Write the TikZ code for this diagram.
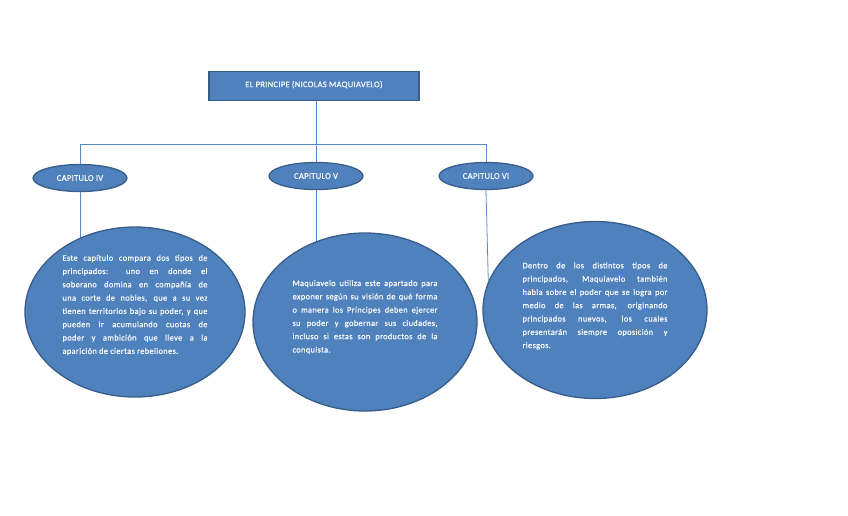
\documentclass[tikz,border=0pt]{standalone}
\usepackage{fontspec}
\setmainfont{Carlito}
\newfontfamily\notefont[LetterSpace=4,FakeBold=0.3]{Carlito}
\newfontfamily\capfont[LetterSpace=3,FakeBold=0.2]{Carlito}
\usetikzlibrary{shapes.geometric,backgrounds}
\definecolor{boxblue}{HTML}{4F81BD}
\definecolor{boxedge}{HTML}{385D8A}
\definecolor{linkblue}{HTML}{5A8AC6}
\begin{document}
\begin{tikzpicture}[x=1pt,y=-1pt,
  headbox/.style={draw=boxedge,line width=1.3pt,fill=boxblue,text=white,
    minimum width=210pt,minimum height=29pt,inner sep=0pt,font=\capfont\fontsize{8.6}{10}\selectfont},
  chapoval/.style={ellipse,draw=boxedge,line width=1.3pt,fill=boxblue,text=white,
    minimum width=94pt,minimum height=27pt,inner sep=0pt,font=\capfont\fontsize{8.6}{10}\selectfont},
  bigoval/.style={ellipse,draw=boxedge,line width=1.3pt,fill=boxblue,inner sep=0pt},
  notetext/.style={text=white,text width=145pt,align=justify,inner sep=0pt,
    font=\notefont\fontsize{8.4}{13.3}\selectfont},
  link/.style={draw=linkblue,line width=0.8pt}]

% keep the page at the size of the reference
\useasboundingbox (0,0) rectangle (848,515);

% title box on top
\node[headbox] (title) at (314,86) {\raisebox{4pt}{EL PRINCIPE (NICOLAS MAQUIAVELO)}};

% chapter ovals
\node[chapoval] (cap4) at (80,178) {CAPITULO IV};
\node[chapoval] (cap5) at (316,176) {CAPITULO V};
\node[chapoval] (cap6) at (486,176) {CAPITULO VI};

% the three large ovals
\node[bigoval,minimum width=220pt,minimum height=170pt] (e4) at (135,312) {};
\node[bigoval,minimum width=224pt,minimum height=178pt] (e5) at (365,322) {};
\node[bigoval,minimum width=224pt,minimum height=177pt] (e6) at (595,310) {};

% texts inside the large ovals
\node[notetext] (t4) at ([yshift=7pt]e4.center) {\tolerance=9999\hyphenpenalty=10000
Este capítulo compara dos tipos de\linebreak
principados: uno en donde el\linebreak
soberano domina en compañía de\linebreak
una corte de nobles, que a su vez\linebreak
tienen territorios bajo su poder, y que\linebreak
pueden ir acumulando cuotas de\linebreak
poder y ambición que lleve a la\linebreak
aparición de ciertas rebeliones.};
\node[notetext] (t5) at ([yshift=5pt]e5.center) {\tolerance=9999\hyphenpenalty=10000
Maquiavelo utiliza este apartado para\linebreak
exponer según su visión de qué forma\linebreak
o manera los Príncipes deben ejercer\linebreak
su poder y gobernar sus ciudades,\linebreak
incluso si estas son productos de la\linebreak
conquista.};
\node[notetext] (t6) at ([yshift=4pt]e6.center) {\tolerance=9999\hyphenpenalty=10000
Dentro de los distintos tipos de\linebreak
principados, Maquiavelo también\linebreak
habla sobre el poder que se logra por\linebreak
medio de las armas, originando\linebreak
principados nuevos, los cuales\linebreak
presentarán siempre oposición y\linebreak
riesgos.};

% tree lines from the title to the chapters
\coordinate (hub) at (316,144);
\coordinate (bar4) at (80,144);
\coordinate (bar6) at (486,144);
\draw[link] (title.south -| hub) -- (hub);
\draw[link] (bar4) -- (bar6);
\draw[link] (bar4) -- (cap4.north);
\draw[link] (hub) -- (cap5.north);
\draw[link] (bar6) -- (cap6.north);

% lines from the chapters down to the large ovals
\begin{scope}[on background layer]
\draw[link] (cap4.south) -- (cap4.south |- e4.center);
\draw[link] (cap5.south) -- (cap5.south |- e5.center);
\end{scope}
\draw[link] (cap6.south) -- (e6.165);

\end{tikzpicture}
\end{document}
